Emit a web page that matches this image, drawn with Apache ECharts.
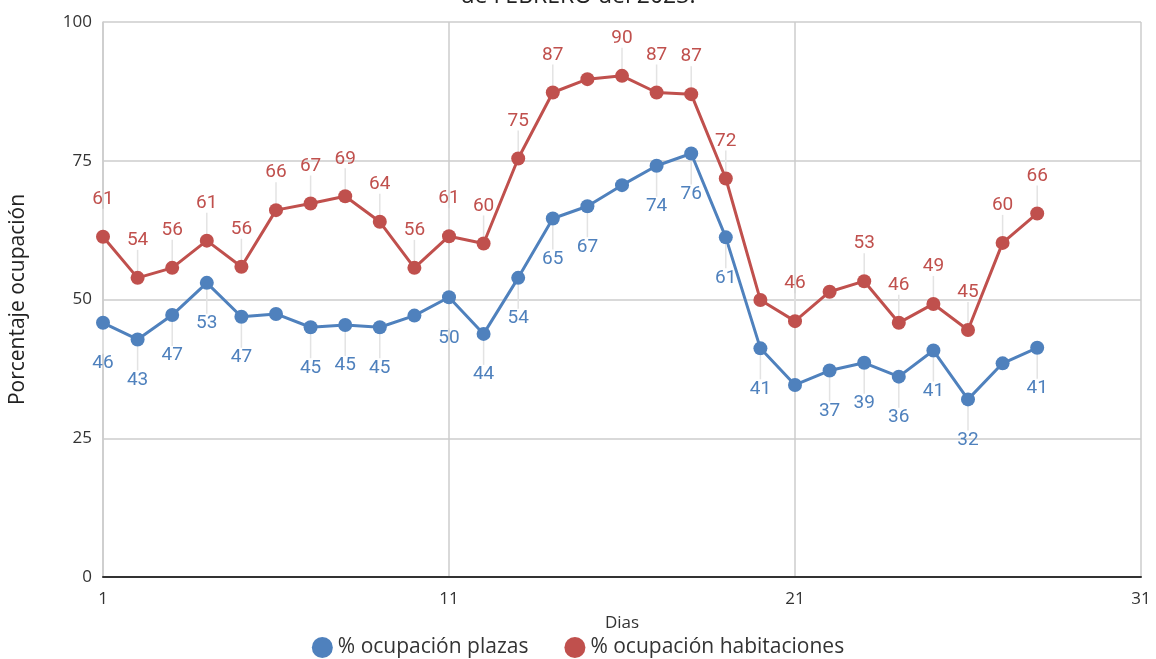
<!DOCTYPE html>
<html>
<head>
<meta charset="utf-8">
<script src="https://cdn.jsdelivr.net/npm/echarts@6/dist/echarts.min.js"></script>
<style>
  html, body { margin: 0; padding: 0; background: #fff; }
  #chart { width: 1156px; height: 659px; }
</style>
</head>
<body>
<div id="chart"></div>
<script>
const days = [1, 2, 3, 4, 5, 6, 7, 8, 9, 10, 11, 12, 13, 14, 15, 16, 17, 18, 19, 20, 21, 22, 23, 24, 25, 26, 27, 28]
const plazas = [45.8, 42.8, 47.2, 53.0, 46.9, 47.4, 45.0, 45.4, 45.0, 47.1, 50.4, 43.8, 53.9, 64.6, 66.8, 70.6, 74.1, 76.3,
  61.2, 41.2, 34.6, 37.2, 38.6, 36.1, 40.8, 32.0, 38.5, 41.3]
const habitaciones = [61.3, 53.9, 55.7, 60.6, 55.9, 66.1, 67.3, 68.6, 64.0, 55.7, 61.4, 60.1, 75.4, 87.3, 89.7, 90.3, 87.3, 87.0,
  71.8, 49.9, 46.1, 51.4, 53.3, 45.8, 49.2, 44.5, 60.2, 65.5]
// days whose value label is not drawn in the original
const plazasHidden = [6, 10, 16, 21, 27]
const habitacionesHidden = [15, 20, 22]
const xTicks = [1, 11, 21, 31]

const chart = echarts.init(document.getElementById('chart'))

function buildData(values, hidden) {
  return days.map((d, i) => ({
    value: [d, values[i]],
    label: { show: !hidden.includes(d) },
    labelLine: { show: !hidden.includes(d) }
  }))
}

function lineSeries(name, color, values, hidden, below) {
  return {
    name,
    type: 'line',
    symbol: 'circle',
    symbolSize: 14,
    lineStyle: { width: 3, color },
    itemStyle: { color },
    label: {
      show: true,
      position: below ? 'bottom' : 'top',
      distance: 4,
      color,
      fontFamily: 'Roboto',
      fontSize: 19,
      formatter: (p) => Math.round(p.value[1])
    },
    labelLayout: { dy: below ? 20 : -17 },
    labelLine: { show: true, lineStyle: { color: '#e3e3e3', width: 1.5 } },
    data: buildData(values, hidden)
  }
}

chart.setOption({
  animation: false,
  title: {
    text: 'de FEBRERO del 2023.',
    left: 'center',
    top: -20,
    textStyle: { fontFamily: 'Open Sans', fontSize: 23, fontWeight: 'normal', color: '#222' }
  },
  grid: { left: 101, right: 15, top: 22, bottom: 82 },
  legend: {
    bottom: -4,
    left: 'center',
    icon: 'circle',
    itemWidth: 21,
    itemHeight: 21,
    itemGap: 36,
    textStyle: { fontFamily: 'Open Sans', fontSize: 21, color: '#333' },
    data: ['% ocupación plazas', '% ocupación habitaciones']
  },
  xAxis: {
    type: 'value',
    min: 1,
    max: 31,
    interval: 10,
    name: 'Dias',
    nameLocation: 'middle',
    nameGap: 38,
    nameTextStyle: { fontFamily: 'Open Sans', fontSize: 17, color: '#333' },
    axisLabel: {
      fontFamily: 'Open Sans',
      fontSize: 17,
      color: '#333',
      margin: 14,
      customValues: xTicks
    },
    axisTick: { show: false },
    axisLine: { lineStyle: { color: '#333', width: 2 } },
    splitLine: { show: true, lineStyle: { color: '#cccccc', width: 1.5 } }
  },
  yAxis: {
    type: 'value',
    min: 0,
    max: 100,
    interval: 25,
    name: 'Porcentaje ocupación',
    nameLocation: 'middle',
    nameGap: 74,
    nameTextStyle: { fontFamily: 'Open Sans', fontSize: 21, color: '#222' },
    axisLabel: { fontFamily: 'Open Sans', fontSize: 17, color: '#333', margin: 11 },
    axisTick: { show: false },
    axisLine: { show: true, lineStyle: { color: '#cccccc', width: 1.5 } },
    splitLine: { lineStyle: { color: '#cccccc', width: 1.5 } }
  },
  series: [
    lineSeries('% ocupación plazas', '#4f81bd', plazas, plazasHidden, true),
    lineSeries('% ocupación habitaciones', '#c0504d', habitaciones, habitacionesHidden, false)
  ]
})
</script>
</body>
</html>
